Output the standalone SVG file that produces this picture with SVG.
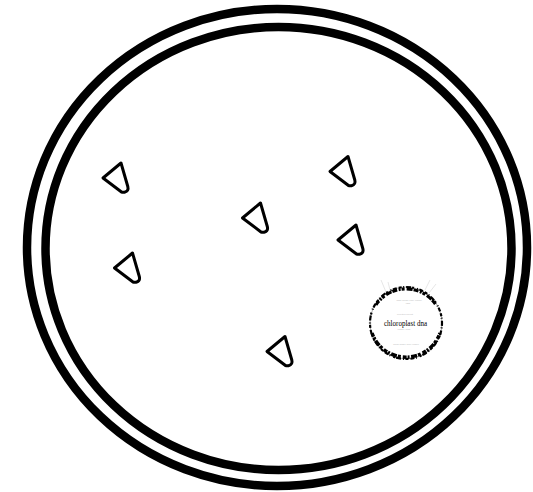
<svg xmlns="http://www.w3.org/2000/svg" width="533" height="492" viewBox="0 0 533 492">
  <style>
    .wall { fill: none; stroke: #000; stroke-width: 8.5; }
    .plastid { fill: none; stroke: #000; stroke-width: 3; stroke-linejoin: round; stroke-linecap: round; }
    .tiny { font-family: "Liberation Sans", Arial, sans-serif; font-size: 2.4px; fill: #bbb; }
    .label { font-family: "Liberation Serif", "Times New Roman", serif; font-size: 8.5px; fill: #000; }
  </style>
  <defs>
    <path id="plastid" d="M0,0 L18,-15 L24.8,8.5 Q26,13 21.5,14.2 Q20,14.6 18.5,14 Z"/>
  </defs>
  <rect width="533" height="492" fill="#fff"/>

  <!-- cell envelope: two concentric rings -->
  <g id="envelope">
    <ellipse class="wall" cx="277" cy="247.5" rx="250" ry="238.5"/>
    <ellipse class="wall" cx="278.5" cy="248.5" rx="233" ry="221.5"/>
  </g>

  <!-- plastids -->
  <g id="plastid-1"><use href="#plastid" class="plastid" x="103" y="178"/></g>
  <g id="plastid-2"><use href="#plastid" class="plastid" x="242.5" y="218"/></g>
  <g id="plastid-3"><use href="#plastid" class="plastid" x="330" y="171.5"/></g>
  <g id="plastid-4"><use href="#plastid" class="plastid" x="338" y="240"/></g>
  <g id="plastid-5"><use href="#plastid" class="plastid" x="114.5" y="268"/></g>
  <g id="plastid-6"><use href="#plastid" class="plastid" x="267" y="351.5"/></g>

  <!-- circular chloroplast genome map -->
  <g id="cpdna">
    <g stroke="#ccc" stroke-width="0.5" fill="none">
      <line x1="386" y1="292" x2="381" y2="280"/>
      <line x1="390" y1="290" x2="388" y2="282"/>
      <line x1="425" y1="290" x2="430" y2="280"/>
      <line x1="429" y1="293" x2="436" y2="284"/>
    </g>
    <circle cx="406" cy="323" r="36" fill="none" stroke="#999" stroke-width="0.8"/>
    <circle cx="406" cy="323" r="36" fill="none" stroke="#000" stroke-width="2.2" stroke-dasharray="3 1.5 1 2 5 1 2 3 1 1.5 4 2"/>
    <path d="M372,333 A36,36 0 0 0 440,333" fill="none" stroke="#000" stroke-width="3.5" stroke-dasharray="4 1 2 1.5 6 1 3 2"/>
    <path d="M376,305 A36,36 0 0 1 436,305" fill="none" stroke="#000" stroke-width="3" stroke-dasharray="5 1.5 2 1 3 2 6 1"/>
    <text class="tiny" x="409" y="301" text-anchor="middle">large single copy region</text>
    <text class="tiny" x="408" y="303.5" text-anchor="middle">LSC</text>
    <text class="tiny" x="405" y="315" text-anchor="middle">inverted repeat</text>
    <text class="label" x="405.5" y="325.5" text-anchor="middle" textLength="43" lengthAdjust="spacingAndGlyphs">chloroplast dna</text>
    <text class="tiny" x="404" y="330" text-anchor="middle">cpDNA map</text>
    <text class="tiny" x="406" y="345" text-anchor="middle">small single copy region</text>
  </g>
</svg>
